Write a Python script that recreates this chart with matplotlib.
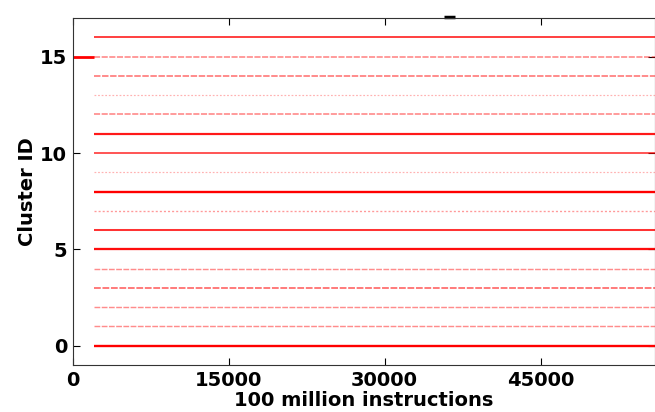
import numpy as np
import matplotlib
matplotlib.use('Agg')
import matplotlib.pyplot as plt

# кластеры и их "плотность" (насколько сплошной выглядит линия)
cluster_ids = [0, 1, 2, 3, 4, 5, 6, 7, 8, 9, 10, 11, 12, 13, 14, 15, 16]
density = [1.0, 0.45, 0.45, 0.6, 0.45, 0.95, 0.8, 0.4, 1.0,
           0.3, 0.7, 0.9, 0.5, 0.3, 0.55, 0.5, 0.75]
line_start = 2000
line_end = 56000

# начальный участок: кластер 15 от 0 до 2000
init_cluster = 15
init_range = [0, 2000]

# короткий фрагмент кластера 17 (у верхней границы)
top_cluster = 17
top_range = [35700, 36800]

x_ticks = [0, 15000, 30000, 45000]
y_ticks = [0, 5, 10, 15]

plt.rcParams['font.family'] = ['DejaVu Sans']
plt.rcParams['font.weight'] = 'bold'
plt.rcParams['font.size'] = 14

fig = plt.figure(figsize=(6.55, 4.12), dpi=100)
ax = fig.add_axes([0.111, 0.114, 0.889, 0.842])

for cid, d in zip(cluster_ids, density):
    if d >= 0.7:
        ls = '-'
    elif d >= 0.45:
        ls = (0, (4, 1))
    else:
        ls = (0, (1.5, 1.5))
    ax.hlines(cid, line_start, line_end, colors='red', alpha=d,
              linewidth=0.5 + 1.2 * d, linestyles=ls)

ax.hlines(init_cluster, init_range[0], init_range[1], colors='red',
          linewidth=2)
ax.hlines(top_cluster + 0.08, top_range[0], top_range[1], colors='black',
          linewidth=2.5, clip_on=False)

ax.set_xlim(0, 56000)
ax.set_ylim(-1, 17)
ax.set_xticks(x_ticks)
ax.set_yticks(y_ticks)
ax.tick_params(axis='x', direction='in', top=True, length=5, pad=4,
               labelsize=14)
ax.tick_params(axis='y', direction='in', right=True, length=5, pad=4,
               labelsize=14)
for sp in ax.spines.values():
    sp.set_color('#333333')

ax.set_xlabel('100 million instructions', fontsize=14, fontweight='bold',
              labelpad=1)
ax.set_ylabel('Cluster ID', fontsize=14, fontweight='bold', labelpad=2)

fig.savefig('out.png', dpi=100)
